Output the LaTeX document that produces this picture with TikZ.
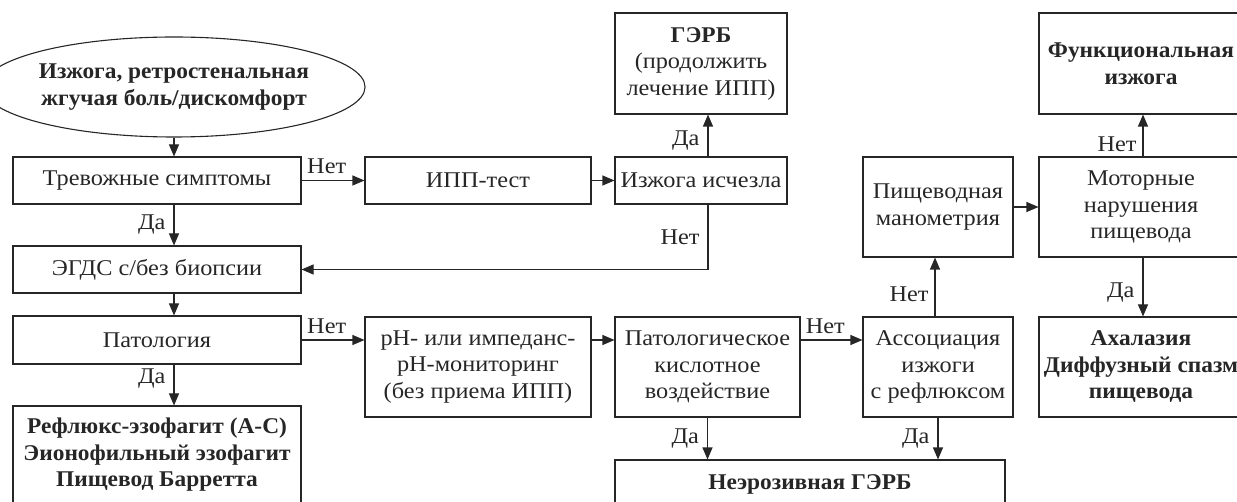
\documentclass[tikz,border=0pt]{standalone}
\usepackage{fontspec}
\setmainfont[FakeStretch=1.08, BoldFeatures={FakeStretch=1.04}]{Liberation Serif}
\usepackage{tikz}
\usetikzlibrary{arrows.meta, positioning, shapes.geometric}
\usepackage{xcolor}
\definecolor{ink}{HTML}{262626}

\begin{document}
\begin{tikzpicture}[x=1pt, y=-1pt, ->, >={Triangle[length=12pt, width=10pt]}, line width=1.1pt, color=ink, font=\fontsize{22.5}{26.5}\selectfont]
    \tikzstyle{stepbox} = [draw, rectangle, text centered, align=center, inner sep=0pt, minimum height=47pt]
    \tikzstyle{resbox} = [stepbox, font=\fontsize{22.5}{26.5}\selectfont\bfseries]
    \tikzstyle{lbl} = [inner sep=1pt]
    \useasboundingbox (0,0) rectangle (1237,502);
    \node [draw, ellipse, align=center, inner sep=0pt, minimum width=342pt, minimum height=100pt, font=\fontsize{22.5}{26.5}\selectfont\bfseries] at (174,87) (start) {Изжога, ретростенальная\\жгучая боль/дискомфорт};
    \node [stepbox, minimum width=288pt] at (157,180.5) (alarm) {Тревожные симптомы};
    \node [stepbox, minimum width=226pt] at (478,180.5) (ipptest) {ИПП-тест};
    \node [stepbox, minimum width=172pt] at (701,180.5) (relief) {Изжога исчезла};
    \node [stepbox, minimum width=172pt, minimum height=101pt] at (701,63.5) (gerd) {\textbf{ГЭРБ}\\(продолжить\\лечение ИПП)};
    \node [stepbox, minimum width=288pt] at (157,269.5) (egds) {ЭГДС с/без биопсии};
    \node [stepbox, minimum width=288pt, minimum height=48pt] at (157,340) (patol) {Патология};
    \node [resbox, minimum width=288pt, minimum height=98pt] at (157,455) (reflux) {Рефлюкс-эзофагит (A-C)\\Эионофильный эзофагит\\Пищевод Барретта};
    \node [stepbox, minimum width=226pt, minimum height=100pt] at (478,367) (phmon) {pH- или импеданс-\\pH-мониторинг\\(без приема ИПП)};
    \node [stepbox, minimum width=185pt, minimum height=100pt] at (707.5,367) (acid) {Патологическое\\кислотное\\воздействие};
    \node [stepbox, minimum width=150pt, minimum height=100pt] at (938,367) (assoc) {Ассоциация\\изжоги\\с рефлюксом};
    \node [stepbox, minimum width=150pt, minimum height=100pt] at (938,207) (mano) {Пищеводная\\манометрия};
    \node [stepbox, minimum width=204pt, minimum height=100pt] at (1141,207) (motor) {Моторные\\нарушения\\пищевода};
    \node [resbox, minimum width=204pt, minimum height=101pt] at (1141,63.5) (func) {Функциональная\\изжога};
    \node [resbox, minimum width=204pt, minimum height=100pt] at (1141,367) (achal) {Ахалазия\\Диффузный спазм\\пищевода};
    \node [resbox, minimum width=390pt, minimum height=48pt] at (810,484) (nerd) {Неэрозивная ГЭРБ};
    \coordinate (lane) at (708,0);
    \draw (start.south) -- (start.south |- alarm.north);
    \draw (start.south |- alarm.south) -- node[lbl, left=7pt] {Да} (start.south |- egds.north);
    \draw (start.south |- egds.south) -- (start.south |- patol.north);
    \draw (start.south |- patol.south) -- node[lbl, left=7pt, pos=.35] {Да} (start.south |- reflux.north);
    \draw (alarm.east) -- node[lbl, above=5pt, pos=.4] {Нет} (ipptest.west);
    \draw (ipptest.east) -- (relief.west);
    \draw (lane |- relief.north) -- node[lbl, left=7pt, pos=.37] {Да} (lane |- gerd.south);
    \draw (lane |- relief.south) -- node[lbl, left=7pt] {Нет} (lane |- egds.east) -- (egds.east);
    \draw (patol.east) -- node[lbl, above=5pt, pos=.4] {Нет} (patol.east -| phmon.west);
    \draw (phmon.east |- patol.east) -- (acid.west |- patol.east);
    \draw (acid.east |- patol.east) -- node[lbl, above=5pt, pos=.4] {Нет} (assoc.west |- patol.east);
    \draw (acid.south) -- node[lbl, left=7pt] {Да} (acid.south |- nerd.north);
    \draw (assoc.south) -- node[lbl, left=7pt] {Да} (assoc.south |- nerd.north);
    \draw ([xshift=-3pt]assoc.north) -- node[lbl, left=5pt, pos=.38] {Нет} ([xshift=-3pt]assoc.north |- mano.south);
    \draw (mano.east) -- (motor.west);
    \draw ([xshift=2pt]motor.north) -- node[lbl, left=5pt, pos=.3] {Нет} ([xshift=2pt]func.south);
    \draw ([xshift=2pt]motor.south) -- node[lbl, left=7pt, pos=.6] {Да} ([xshift=2pt]achal.north);
\end{tikzpicture}
\end{document}
